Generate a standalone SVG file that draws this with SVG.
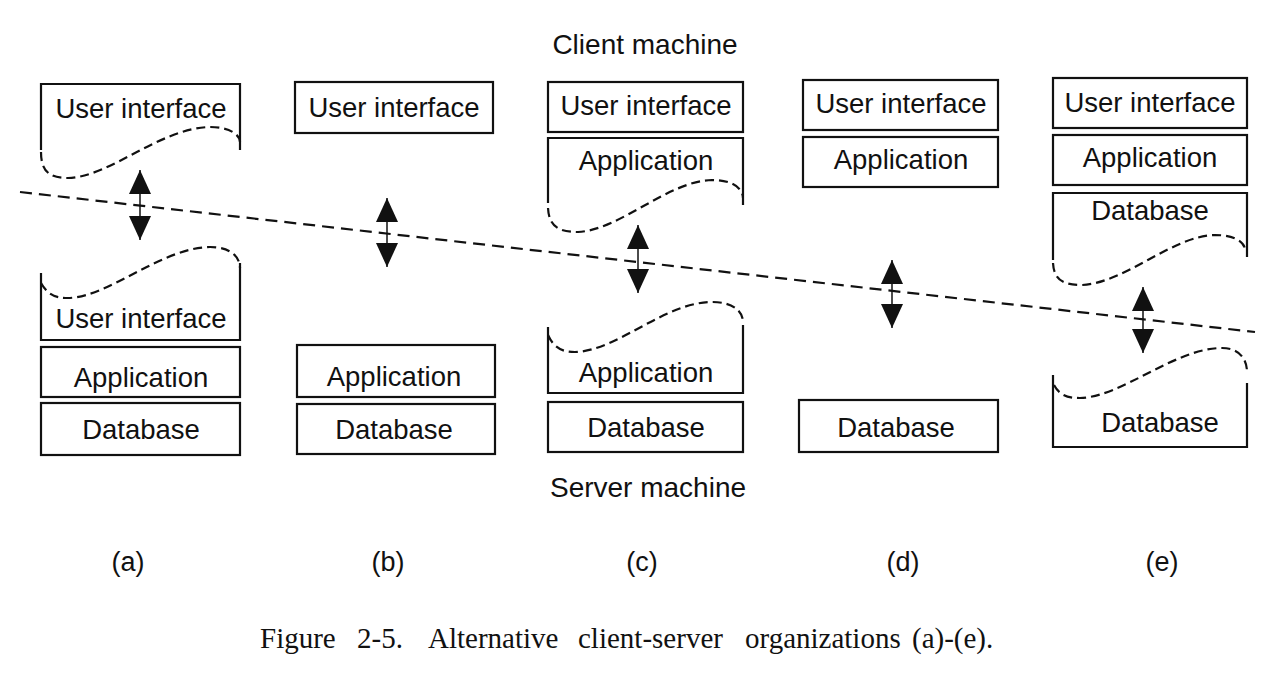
<svg xmlns="http://www.w3.org/2000/svg" width="1280" height="685" viewBox="0 0 1280 685">
<style>
.bx{fill:none;stroke:#111;stroke-width:2.2}
.wv{fill:none;stroke:#111;stroke-width:2.2;stroke-dasharray:9 5;stroke-linecap:butt}
.t{font-family:"Liberation Sans",Arial,sans-serif;font-size:27.5px;fill:#111;text-anchor:middle}
.hd{font-family:"Liberation Sans",Arial,sans-serif;font-size:28px;fill:#111;text-anchor:middle}
.lb{font-family:"Liberation Sans",Arial,sans-serif;font-size:27px;fill:#111;text-anchor:middle}
.cap{font-family:"Liberation Serif","Times New Roman",serif;font-size:29px;fill:#111}
.ar{stroke:#111;stroke-width:1.5;marker-start:url(#ah);marker-end:url(#ah)}
</style>
<defs>
<marker id="ah" viewBox="0 0 24 22" refX="24" refY="11" markerWidth="24" markerHeight="22" markerUnits="userSpaceOnUse" orient="auto-start-reverse">
<path d="M0,0 L24,11 L0,22 z" fill="#111"/>
</marker>
</defs>
<rect width="1280" height="685" fill="#fff"/>

<text class="hd" x="645" y="54">Client machine</text>
<text class="hd" x="648" y="497">Server machine</text>

<g id="a">
<g id="a-client">
<path class="bx" d="M41,150 V84 H240 V150"/>
<path class="wv" d="M41,152 C41,172 50,178 68,178 C110,177 160,128 210,127 C230,127 240,135 240,142"/>
<text class="t" x="141" y="118">User interface</text>
</g>
<g id="a-server-ui">
<path class="bx" d="M41,273 V340 H240 V263"/>
<path class="wv" d="M41,283 C48,295 55,298 68,298 C110,297 160,248 210,247 C232,247 240,258 240,268"/>
<text class="t" x="141" y="328">User interface</text>
</g>
<g id="a-app"><rect class="bx" x="41" y="347" width="199" height="50"/><text class="t" x="141" y="387">Application</text></g>
<g id="a-db"><rect class="bx" x="41" y="403" width="199" height="52"/><text class="t" x="141" y="439">Database</text></g>
<text class="lb" x="128" y="571">(a)</text>
</g>

<g id="b">
<g id="b-ui"><rect class="bx" x="295" y="82" width="198" height="51"/><text class="t" x="394" y="117">User interface</text></g>
<g id="b-app"><rect class="bx" x="297" y="345" width="198" height="52"/><text class="t" x="394" y="386">Application</text></g>
<g id="b-db"><rect class="bx" x="297" y="404" width="198" height="50"/><text class="t" x="394" y="439">Database</text></g>
<text class="lb" x="388" y="571">(b)</text>
</g>

<g id="c">
<g id="c-ui"><rect class="bx" x="548" y="82" width="195" height="50"/><text class="t" x="646" y="115">User interface</text></g>
<g id="c-client-app">
<path class="bx" d="M548,203 V138 H743 V205"/>
<path class="wv" d="M548,208 C549,226 558,232 578,232 C620,230 668,181 712,180 C735,180 743,190 743,198"/>
<text class="t" x="646" y="170">Application</text>
</g>
<g id="c-server-app">
<path class="bx" d="M548,327 V393 H743 V325"/>
<path class="wv" d="M548,335 C554,348 562,352 575,352 C617,351 665,302 712,302 C735,302 743,313 743,322"/>
<text class="t" x="646" y="382">Application</text>
</g>
<g id="c-db"><rect class="bx" x="548" y="402" width="195" height="50"/><text class="t" x="646" y="437">Database</text></g>
<text class="lb" x="642" y="571">(c)</text>
</g>

<g id="d">
<g id="d-ui"><rect class="bx" x="803" y="80" width="195" height="50"/><text class="t" x="901" y="113">User interface</text></g>
<g id="d-app"><rect class="bx" x="803" y="137" width="195" height="50"/><text class="t" x="901" y="169">Application</text></g>
<g id="d-db"><rect class="bx" x="799" y="400" width="199" height="52"/><text class="t" x="896" y="437">Database</text></g>
<text class="lb" x="903" y="571">(d)</text>
</g>

<g id="e">
<g id="e-ui"><rect class="bx" x="1053" y="78" width="194" height="50"/><text class="t" x="1150" y="112">User interface</text></g>
<g id="e-app"><rect class="bx" x="1053" y="135" width="194" height="50"/><text class="t" x="1150" y="167">Application</text></g>
<g id="e-client-db">
<path class="bx" d="M1053,260 V193 H1247 V257"/>
<path class="wv" d="M1053,263 C1054,280 1063,285 1082,285 C1125,283 1172,236 1215,235 C1236,235 1245,243 1245,250"/>
<text class="t" x="1150" y="220">Database</text>
</g>
<g id="e-server-db">
<path class="bx" d="M1053,375 V447 H1247 V383"/>
<path class="wv" d="M1054,385 C1060,396 1068,398 1080,398 C1122,397 1175,348 1222,348 C1240,348 1247,360 1247,372"/>
<text class="t" x="1160" y="432">Database</text>
</g>
<text class="lb" x="1162" y="571">(e)</text>
</g>

<g id="connectors">
<line x1="20" y1="192" x2="1255" y2="332" stroke="#111" stroke-width="2.2" stroke-dasharray="12 7"/>
<line class="ar" x1="140" y1="170" x2="140" y2="240"/>
<line class="ar" x1="387" y1="198" x2="387" y2="267"/>
<line class="ar" x1="638" y1="225" x2="638" y2="293"/>
<line class="ar" x1="892" y1="260" x2="892" y2="328"/>
<line class="ar" x1="1143" y1="287" x2="1143" y2="353"/>
</g>

<g id="caption">
<text class="cap" x="260" y="648">Figure</text>
<text class="cap" x="357" y="648">2-5.</text>
<text class="cap" x="428" y="648">Alternative</text>
<text class="cap" x="578" y="648">client-server</text>
<text class="cap" x="745" y="648">organizations</text>
<text class="cap" x="912" y="648">(a)-(e).</text>
</g>
</svg>
